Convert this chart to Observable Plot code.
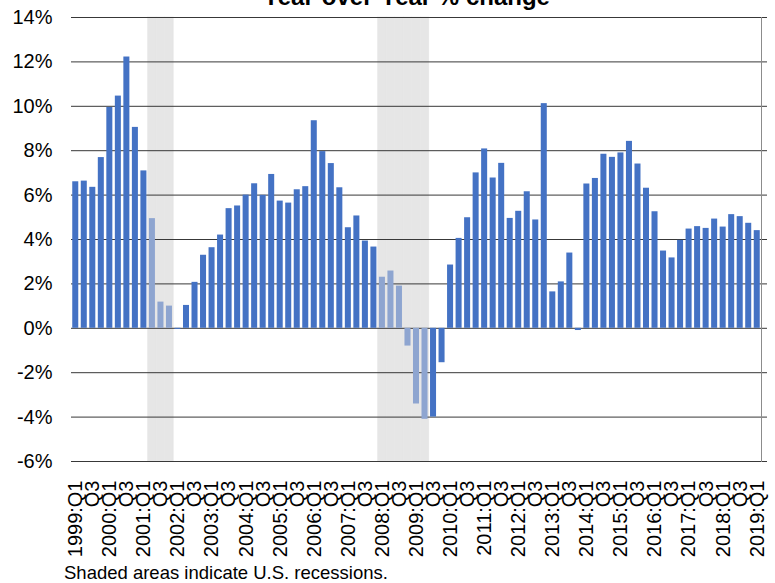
<!DOCTYPE html>
<html><head><meta charset="utf-8">
<script src="https://cdn.jsdelivr.net/npm/d3@7"></script>
<script src="https://cdn.jsdelivr.net/npm/@observablehq/plot@0.6"></script>
<style>
html,body{margin:0;padding:0;background:#fff;overflow:hidden;}
#wrap{position:relative;width:775px;height:583px;overflow:hidden;font-family:"Liberation Sans",Arial,sans-serif;color:#000;}
#title{position:absolute;left:406.5px;transform:translateX(-50%);top:-15.3px;white-space:nowrap;font-weight:bold;font-size:24px;line-height:24px;}
#chart{position:absolute;left:0;top:0;}
#caption{position:absolute;left:64px;top:564.3px;white-space:nowrap;font-size:18.5px;line-height:18.5px;}
</style>
</head><body>
<div id="wrap">
  <div id="chart"></div>
  <div id="title">Year-over-Year % change</div>
  <div id="caption">Shaded areas indicate U.S. recessions.</div>
</div>
<script>
const years = [1999,2000,2001,2002,2003,2004,2005,2006,2007,2008,2009,2010,2011,2012,2013,2014,2015,2016,2017,2018,2019];
const qNames = ["Q1","Q2","Q3","Q4"];
const quarters = years.flatMap(y => qNames.map(q => `${y}:${q}`)).slice(0, 81); // 1999:Q1 .. 2019:Q1

const growth = [
  6.60, 6.63, 6.35, 7.69,   // 1999
  9.95, 10.46, 12.22, 9.05, // 2000
  7.09, 4.94, 1.18, 1.00,   // 2001
  -0.05, 1.03, 2.07, 3.29,  // 2002
  3.63, 4.20, 5.39, 5.51,   // 2003
  6.00, 6.51, 5.99, 6.93,   // 2004
  5.73, 5.64, 6.24, 6.38,   // 2005
  9.35, 7.96, 7.42, 6.33,   // 2006
  4.53, 5.06, 3.93, 3.66,   // 2007
  2.30, 2.58, 1.90, -0.80,  // 2008
  -3.41, -4.10, -4.00, -1.55, // 2009
  2.85, 4.05, 4.98, 7.00,   // 2010
  8.08, 6.77, 7.43, 4.95,   // 2011
  5.27, 6.15, 4.88, 10.12,  // 2012
  1.64, 2.09, 3.39, -0.10,  // 2013
  6.50, 6.75, 7.84, 7.70,   // 2014
  7.90, 8.42, 7.40, 6.31,   // 2015
  5.25, 3.48, 3.17, 3.96,   // 2016
  4.47, 4.58, 4.50, 4.92,   // 2017
  4.56, 5.12, 5.03, 4.73,   // 2018
  4.40                      // 2019
];

const recessionQuarters = ["2001:Q2","2001:Q3","2001:Q4","2008:Q1","2008:Q2","2008:Q3","2008:Q4","2009:Q1","2009:Q2"];
const yTicks = [-6, -4, -2, 0, 2, 4, 6, 8, 10, 12, 14];
const xTicks = quarters.filter(q => q.endsWith("Q1") || q.endsWith("Q3"));
const xTickLabel = q => q.endsWith("Q1") ? q : "Q3";

const rows = quarters.map((q, i) => ({q, v: growth[i], rec: recessionQuarters.includes(q)}));

const chart = Plot.plot({
  width: 775,
  height: 560,
  marginLeft: 71,
  marginRight: 14,
  marginTop: 17,
  marginBottom: 99,
  style: {fontFamily: "Liberation Sans, Arial, sans-serif", fontSize: "20px", color: "#000", background: "transparent", overflow: "visible"},
  x: {domain: quarters, padding: 0, axis: null},
  y: {domain: [yTicks[0], yTicks[yTicks.length - 1]], axis: null},
  marks: [
    Plot.cell(recessionQuarters, {x: d => d, fill: "#e6e6e6", stroke: "#e6e6e6", strokeWidth: 0.6}),
    Plot.ruleY(yTicks, {stroke: "#383838", strokeWidth: 1, insetRight: -6}),
    Plot.frame({anchor: "right", stroke: "#8c8c8c"}),
    Plot.barY(rows.filter(d => !d.rec), {x: "q", y: "v", fill: "#4472c4", insetLeft: 1.25, insetRight: 1.25}),
    Plot.barY(rows.filter(d => d.rec), {x: "q", y: "v", fill: "#8ea5d0", insetLeft: 1.25, insetRight: 1.25}),
    Plot.axisY({ticks: yTicks, tickSize: 0, tickPadding: 19, tickFormat: d => `${d}%`, label: null, fontSize: 20}),
    Plot.axisX({ticks: xTicks, tickSize: 0, tickPadding: 19, tickRotate: -90, tickFormat: xTickLabel, label: null, fontSize: 20})
  ]
});
document.getElementById("chart").appendChild(chart);
</script>
</body></html>
